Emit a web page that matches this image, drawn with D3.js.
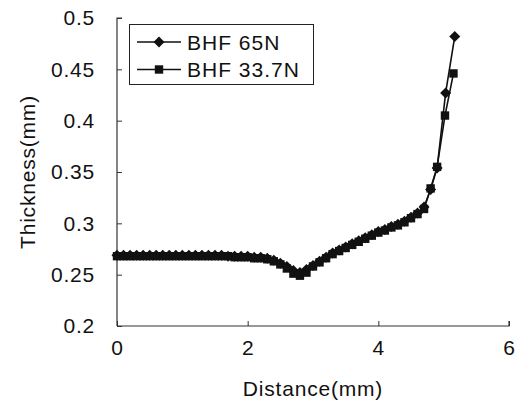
<!DOCTYPE html>
<html>
<head>
<meta charset="utf-8">
<script src="https://cdn.jsdelivr.net/npm/d3@7/dist/d3.min.js"></script>
<style>
  html, body { margin: 0; padding: 0; background: #fff; }
  svg text { font-family: "Liberation Sans", Arial, sans-serif; fill: #111; }
</style>
</head>
<body>
<svg id="chart" width="523" height="401"></svg>
<script>
// Thickness profile along the cup wall for two blank holder forces
const distance65 = [0, 0.1, 0.2, 0.3, 0.4, 0.5, 0.6, 0.7, 0.8, 0.9,
  1.0, 1.1, 1.2, 1.3, 1.4, 1.5, 1.6, 1.7, 1.8, 1.9,
  2.0, 2.1, 2.2, 2.3, 2.4, 2.5, 2.6, 2.7, 2.8, 2.9,
  3.0, 3.1, 3.2, 3.3, 3.4, 3.5, 3.6, 3.7, 3.8, 3.9,
  4.0, 4.1, 4.2, 4.3, 4.4, 4.5, 4.6, 4.7, 4.8, 4.9,
  5.03, 5.17];
const thickness65 = [0.269, 0.269, 0.269, 0.269, 0.269, 0.269, 0.269, 0.269, 0.269, 0.269,
  0.269, 0.269, 0.269, 0.269, 0.269, 0.269, 0.269, 0.268, 0.268, 0.268,
  0.268, 0.267, 0.267, 0.266, 0.264, 0.261, 0.258, 0.254, 0.252, 0.255,
  0.259, 0.263, 0.267, 0.271, 0.274, 0.277, 0.280, 0.283, 0.286, 0.289,
  0.292, 0.294, 0.297, 0.299, 0.302, 0.306, 0.310, 0.316, 0.333, 0.354,
  0.427, 0.482];

const distance337 = [0, 0.1, 0.2, 0.3, 0.4, 0.5, 0.6, 0.7, 0.8, 0.9,
  1.0, 1.1, 1.2, 1.3, 1.4, 1.5, 1.6, 1.7, 1.8, 1.9,
  2.0, 2.1, 2.2, 2.3, 2.4, 2.5, 2.6, 2.7, 2.8, 2.9,
  3.0, 3.1, 3.2, 3.3, 3.4, 3.5, 3.6, 3.7, 3.8, 3.9,
  4.0, 4.1, 4.2, 4.3, 4.4, 4.5, 4.6, 4.7, 4.8, 4.9,
  5.02, 5.15];
const thickness337 = [0.268, 0.268, 0.268, 0.268, 0.268, 0.268, 0.268, 0.268, 0.268, 0.268,
  0.268, 0.268, 0.268, 0.268, 0.268, 0.268, 0.268, 0.268, 0.267, 0.267,
  0.267, 0.266, 0.266, 0.265, 0.263, 0.260, 0.256, 0.251, 0.249, 0.252,
  0.258, 0.262, 0.266, 0.270, 0.273, 0.276, 0.279, 0.282, 0.285, 0.288,
  0.291, 0.293, 0.296, 0.298, 0.301, 0.305, 0.309, 0.314, 0.334, 0.355,
  0.405, 0.446];

const seriesNames = ["BHF 65N", "BHF 33.7N"];
const xTicks = [0, 2, 4, 6];
const yTicks = [0.2, 0.25, 0.3, 0.35, 0.4, 0.45, 0.5];

const svg = d3.select("#chart");
const x = d3.scaleLinear().domain([0, 6]).range([117, 509]);
const y = d3.scaleLinear().domain([0.2, 0.5]).range([326, 18]);

const ink = "#111";
const fontSize = "21px";
const spacing = "0.8px";

// Axes: only left and bottom lines, ticks pointing inward
const xAxis = d3.axisBottom(x).tickValues(xTicks).tickSize(-5).tickPadding(14)
  .tickFormat(d3.format("d"));
const yAxis = d3.axisLeft(y).tickValues(yTicks).tickSize(-5).tickPadding(22)
  .tickFormat(d => d3.format("")(+d.toFixed(2)));

const gx = svg.append("g").attr("transform", `translate(0,${y(0.2)})`).call(xAxis);
const gy = svg.append("g").attr("transform", `translate(${x(0)},0)`).call(yAxis);
[gx, gy].forEach(g => {
  g.select(".domain").attr("stroke", "#333").attr("stroke-width", 1.2);
  g.selectAll(".tick line").attr("stroke", "#333").attr("stroke-width", 1);
  g.selectAll(".tick text").attr("fill", ink).style("font-size", fontSize)
    .style("letter-spacing", spacing).style("font-family", '"Liberation Sans", Arial, sans-serif');
});
// bottom axis: remove outer end ticks drawn by the domain path, keep plain line
gx.select(".domain").attr("d", `M${x(0)},0H${x(6)}V-5`);
gy.select(".domain").attr("d", `M5,${y(0.5)}H0V${y(0.2)}`);

// Axis titles
svg.append("text")
  .attr("x", (x(0) + x(6)) / 2).attr("y", 396)
  .attr("text-anchor", "middle")
  .style("font-size", fontSize).style("letter-spacing", spacing)
  .text("Distance(mm)");
svg.append("text")
  .attr("transform", `translate(35,${(y(0.2) + y(0.5)) / 2}) rotate(-90)`)
  .attr("text-anchor", "middle")
  .style("font-size", fontSize).style("letter-spacing", spacing)
  .text("Thickness(mm)");

// Marker shapes
const diamondPath = "M0,-5.5L5.5,0L0,5.5L-5.5,0Z";
const squarePath = "M-4.2,-4.2H4.2V4.2H-4.2Z";

const series = [
  { name: seriesNames[0], xs: distance65, ys: thickness65, marker: diamondPath },
  { name: seriesNames[1], xs: distance337, ys: thickness337, marker: squarePath }
];

const line = d3.line().x(d => x(d[0])).y(d => y(d[1]));

series.forEach(s => {
  const pts = s.xs.map((v, i) => [v, s.ys[i]]);
  svg.append("path").datum(pts)
    .attr("d", line).attr("fill", "none")
    .attr("stroke", ink).attr("stroke-width", 1.6);
  svg.append("g").selectAll("path").data(pts).join("path")
    .attr("transform", d => `translate(${x(d[0])},${y(d[1])})`)
    .attr("d", s.marker).attr("fill", ink);
});

// Legend
const legend = svg.append("g");
legend.append("rect")
  .attr("x", 129.5).attr("y", 24.5).attr("width", 184).attr("height", 60)
  .attr("fill", "#fff").attr("stroke", "#222").attr("stroke-width", 1);
series.forEach((s, i) => {
  const ly = 42 + i * 27.5;
  legend.append("line")
    .attr("x1", 137).attr("x2", 181).attr("y1", ly).attr("y2", ly)
    .attr("stroke", ink).attr("stroke-width", 1.6);
  legend.append("path").attr("transform", `translate(159,${ly})`)
    .attr("d", s.marker).attr("fill", ink);
  legend.append("text")
    .attr("x", 187).attr("y", ly + 7.5)
    .style("font-size", fontSize).style("letter-spacing", "1px")
    .text(s.name);
});
</script>
</body>
</html>
